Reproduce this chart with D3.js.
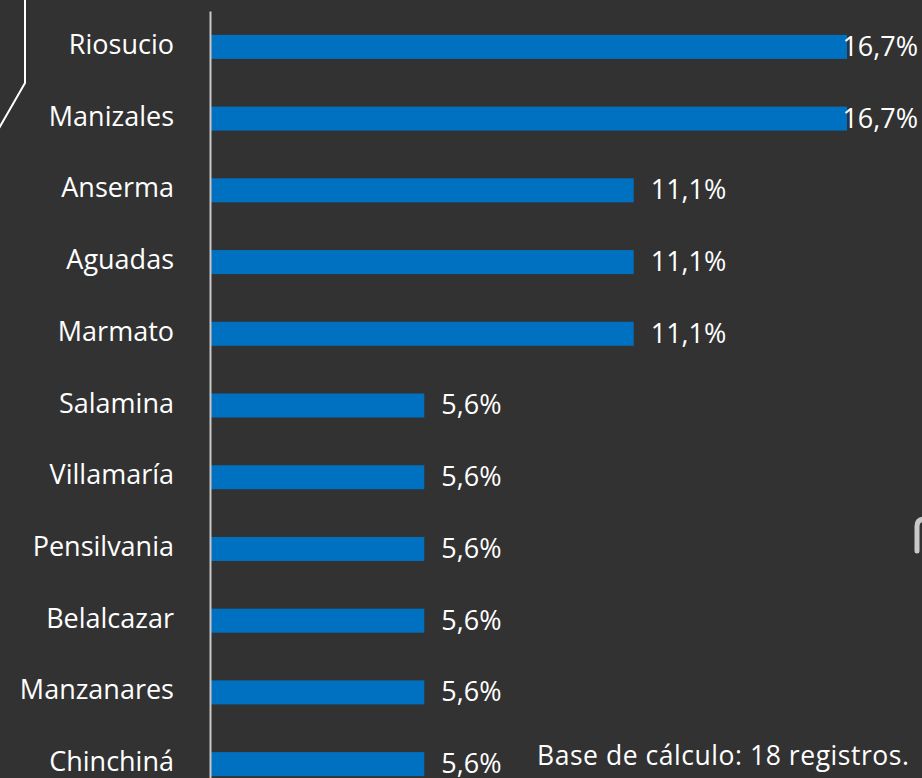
<!DOCTYPE html>
<html>
<head>
<meta charset="utf-8">
<script src="https://cdn.jsdelivr.net/npm/d3@7"></script>
<style>
  html, body { margin: 0; padding: 0; background: #323232; }
  svg { display: block; }
</style>
</head>
<body>
<svg id="chart" width="922" height="778"></svg>
<script>
// ── data ──
const municipios = ['Riosucio', 'Manizales', 'Anserma', 'Aguadas', 'Marmato', 'Salamina',
  'Villamaría', 'Pensilvania', 'Belalcazar', 'Manzanares', 'Chinchiná'];
const porcentajes = [16.7, 16.7, 11.1, 11.1, 11.1, 5.6, 5.6, 5.6, 5.6, 5.6, 5.6];
const nota = 'Base de cálculo: 18 registros.';

const fmtPct = d => d.toFixed(1).replace('.', ',') + '%';

function drawChart() {
  const FONT = "'Open Sans', 'Noto Sans', sans-serif";
  const svg = d3.select('#chart');
  svg.selectAll('*').remove();

  const rows = municipios.map((m, i) => ({ name: m, value: porcentajes[i] }));

  const x = d3.scaleLinear().domain([0, 16.7]).range([211, 847]);
  const y = d3.scaleBand()
    .domain(municipios)
    .range([11, 800])
    .paddingInner(0.665)
    .paddingOuter(0.3325);

  // decorative frame bits
  svg.append('path')
    .attr('d', 'M25,0 L25,83 L-2,130')
    .attr('fill', 'none')
    .attr('stroke', '#ffffff')
    .attr('stroke-width', 2);
  svg.append('path')
    .attr('d', 'M917,551 L917,526 Q917,519 925,519')
    .attr('fill', 'none')
    .attr('stroke', '#c8c8c8')
    .attr('stroke-width', 5)
    .attr('stroke-linecap', 'round');

  // bars
  svg.selectAll('.bar')
    .data(rows).enter().append('rect')
      .attr('class', 'bar')
      .attr('x', x(0))
      .attr('y', d => y(d.name))
      .attr('width', d => x(d.value) - x(0))
      .attr('height', y.bandwidth())
      .attr('fill', '#0070c0');

  // category axis
  const yAxis = svg.append('g')
    .attr('transform', `translate(${x(0) - 1},0)`)
    .call(d3.axisLeft(y).tickSize(0).tickPadding(36));
  yAxis.select('.domain')
    .attr('stroke', '#c8c8c8')
    .attr('stroke-width', 2);
  yAxis.selectAll('text')
    .attr('fill', '#ffffff')
    .attr('font-family', FONT)
    .attr('font-size', 27)
    .attr('dy', '0.26em');

  // value labels
  svg.selectAll('.bar-label')
    .data(rows).enter().append('text')
      .attr('class', 'bar-label')
      .attr('y', d => y(d.name) + y.bandwidth() / 2)
      .attr('dy', '0.33em')
      .attr('fill', '#ffffff')
      .attr('font-family', FONT)
      .attr('font-size', 27)
      .text(d => fmtPct(d.value))
      .attr('x', function(d) {
        const tw = this.getComputedTextLength();
        return Math.min(x(d.value) + 17, 918 - tw);
      });

  // footnote
  svg.append('text')
    .attr('x', 537)
    .attr('y', 765)
    .attr('fill', '#ffffff')
    .attr('font-family', FONT)
    .attr('font-size', 26.5)
    .attr('textLength', 372)
    .text(nota);
}

drawChart();
</script>
</body>
</html>
